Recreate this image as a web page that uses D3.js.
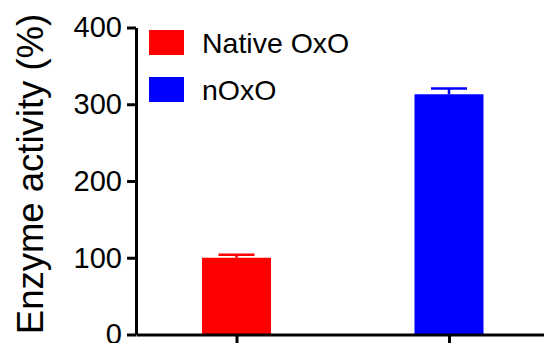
<!DOCTYPE html>
<html>
<head>
<meta charset="utf-8">
<script src="https://cdn.jsdelivr.net/npm/d3@7/dist/d3.min.js"></script>
<style>
  html, body { margin: 0; padding: 0; background: #fff; }
  svg { display: block; font-family: "Liberation Sans", Arial, Helvetica, sans-serif; }
</style>
</head>
<body>
<svg id="chart" width="544" height="343"></svg>
<script>
// Enzyme activity of native vs. modified OxO (mean ± SEM, %)
const categories = ["Native OxO", "nOxO"];
const meanValues = [100, 313];
const semValues = [4, 7.5];
const barColors = ["#ff0000", "#0000ff"];
const yTicks = [0, 100, 200, 300, 400];
const yTitle = "Enzyme activity (%)";

const svg = d3.select("#chart");

const y = d3.scaleLinear().domain([0, 400]).range([334.5, 27.5]);
const x = d3.scalePoint().domain(categories).range([136, 549.5]).padding(0.473);
const barWidth = 69;
const capWidth = 36;

// Bars
svg.selectAll("rect.bar")
  .data(categories)
  .join("rect")
  .attr("class", "bar")
  .attr("x", d => x(d) - barWidth / 2)
  .attr("width", barWidth)
  .attr("y", (d, i) => y(meanValues[i]))
  .attr("height", (d, i) => y(0) - y(meanValues[i]))
  .attr("fill", (d, i) => barColors[i]);

// Upper error bars
const err = svg.selectAll("g.err")
  .data(categories)
  .join("g")
  .attr("class", "err")
  .attr("stroke", (d, i) => barColors[i])
  .attr("stroke-width", 2.5);
err.append("line")
  .attr("x1", d => x(d)).attr("x2", d => x(d))
  .attr("y1", (d, i) => y(meanValues[i]))
  .attr("y2", (d, i) => y(meanValues[i] + semValues[i]));
err.append("line")
  .attr("x1", d => x(d) - capWidth / 2).attr("x2", d => x(d) + capWidth / 2)
  .attr("y1", (d, i) => y(meanValues[i] + semValues[i]))
  .attr("y2", (d, i) => y(meanValues[i] + semValues[i]));

// Y axis
const yAxis = svg.append("g")
  .attr("transform", "translate(136,0)")
  .call(d3.axisLeft(y).tickValues(yTicks).tickSize(9).tickSizeOuter(0).tickPadding(5));
yAxis.select(".domain").attr("stroke", "#000").attr("stroke-width", 3);
yAxis.selectAll(".tick line").attr("stroke", "#000").attr("stroke-width", 3);
yAxis.selectAll(".tick text")
  .attr("fill", "#000")
  .style("font-size", "29px")
  .style("font-family", "Liberation Sans, Arial, sans-serif");

// X axis
const xAxis = svg.append("g")
  .attr("transform", `translate(0,${y(0)})`)
  .call(d3.axisBottom(x).tickSize(12).tickSizeOuter(0).tickFormat(""));
xAxis.select(".domain").attr("stroke", "#000").attr("stroke-width", 3);
xAxis.selectAll(".tick line").attr("stroke", "#000").attr("stroke-width", 3);

// Y axis title
svg.append("text")
  .attr("transform", "translate(43,174) rotate(-90)")
  .attr("text-anchor", "middle")
  .attr("fill", "#000")
  .style("font-size", "36.5px")
  .text(yTitle);

// Legend
const legend = svg.selectAll("g.legend")
  .data(categories)
  .join("g")
  .attr("class", "legend")
  .attr("transform", (d, i) => `translate(149,${30 + i * 47})`);
legend.append("rect")
  .attr("width", 35).attr("height", 25)
  .attr("fill", (d, i) => barColors[i]);
legend.append("text")
  .attr("x", 53).attr("y", 23)
  .attr("fill", "#000")
  .style("font-size", "28.5px")
  .text(d => d);
</script>
</body>
</html>
